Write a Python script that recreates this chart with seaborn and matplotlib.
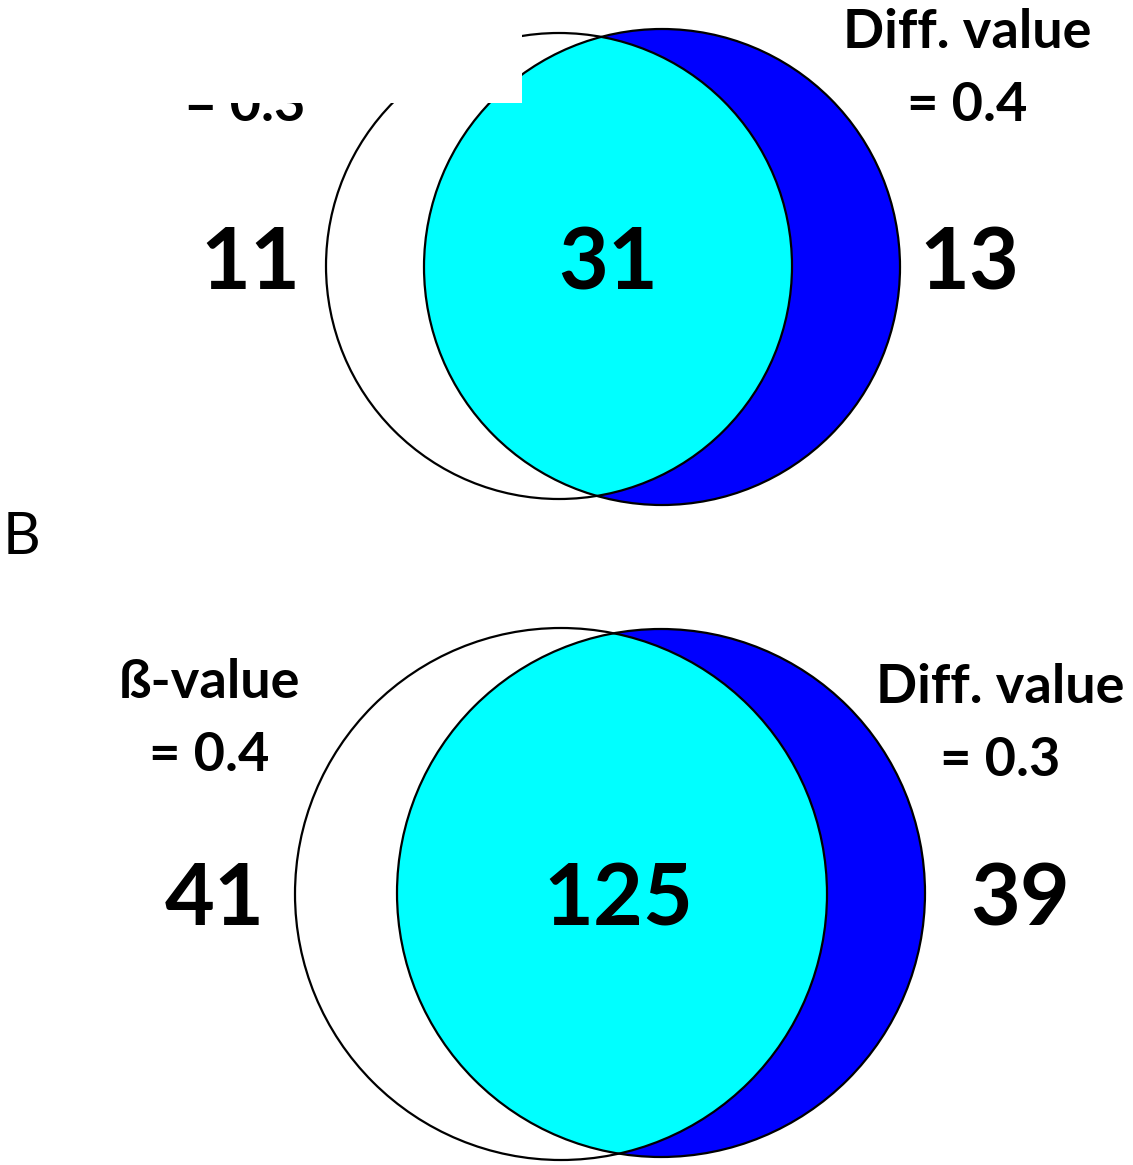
import matplotlib
matplotlib.use("Agg")
import matplotlib.pyplot as plt
from matplotlib.patches import Circle, Rectangle
import seaborn as sns

# Overlap counts for the two thresholds
only_beta = [11, 41]
shared = [31, 125]
only_diff = [13, 39]
beta_labels = ["ß-value\n= 0.3", "ß-value\n= 0.4"]
diff_labels = ["Diff. value\n= 0.4", "Diff. value\n= 0.3"]
panel_tags = ["", "B"]

sns.set_theme(style="white")
plt.rcParams["font.family"] = ["Lato", "DejaVu Sans"]
fill_white, fill_cyan, fill_blue = sns.color_palette(["#ffffff", "#00ffff", "#0000ff"])

W, H = 1133, 1165
fig = plt.figure(figsize=(W / 100, H / 100), dpi=100)
ax = fig.add_axes([0, 0, 1, 1])
ax.set_xlim(0, W)
ax.set_ylim(H, 0)
ax.axis("off")

# circle geometry (pixel units): left (cx, cy, r), right (cx, cy, r)
layout = [
    dict(left=(559, 266, 233), right=(662, 267, 238),
         num_y=289, num_x=(250, 608, 969),
         lab_x=(245, 967), lab_y=(48, 48), tag=(3, 554)),
    dict(left=(561, 894, 266), right=(661, 893, 264),
         num_y=925, num_x=(215, 618, 1020),
         lab_x=(209, 1000), lab_y=(698, 703), tag=(3, 554)),
]

for i, g in enumerate(layout):
    lx, ly, lr = g["left"]
    rx, ry, rr = g["right"]
    ax.add_patch(Circle((lx, ly), lr, facecolor=fill_white, edgecolor="none", zorder=1))
    right_fill = Circle((rx, ry), rr, facecolor=fill_blue, edgecolor="none", zorder=2)
    ax.add_patch(right_fill)
    lens = Circle((lx, ly), lr, facecolor=fill_cyan, edgecolor="none", zorder=3)
    ax.add_patch(lens)
    lens.set_clip_path(right_fill)
    for (cx, cy, r) in (g["left"], g["right"]):
        ax.add_patch(Circle((cx, cy), r, facecolor="none", edgecolor="black",
                            linewidth=1.6, zorder=4))

    counts = (only_beta[i], shared[i], only_diff[i])
    for x, c in zip(g["num_x"], counts):
        ax.text(x, g["num_y"], str(c), ha="center", va="baseline",
                fontsize=62, fontweight="bold", color="black", zorder=5)

    for x, y, lab in zip(g["lab_x"], g["lab_y"], (beta_labels[i], diff_labels[i])):
        first, second = lab.split("\n")
        ax.text(x, y, first, ha="center", va="baseline", fontsize=39,
                fontweight="bold", color="black", zorder=5)
        ax.text(x, y + 73, second, ha="center", va="baseline", fontsize=39,
                fontweight="bold", color="black", zorder=5)

    if panel_tags[i]:
        ax.text(g["tag"][0], g["tag"][1], panel_tags[i], ha="left", va="baseline",
                fontsize=42, fontweight="normal", color="black", zorder=5)

# blank block over the upper-left corner of the first panel
ax.add_patch(Rectangle((0, 0), 522, 103, facecolor="white", edgecolor="none", zorder=10))

fig.savefig("out.png", dpi=100)
